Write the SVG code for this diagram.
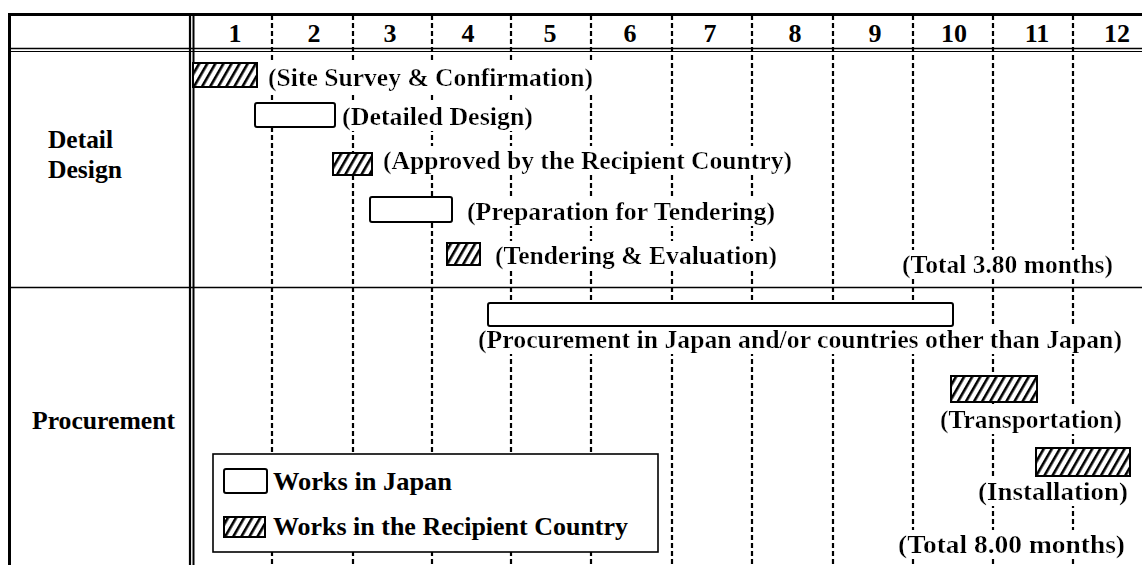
<svg xmlns="http://www.w3.org/2000/svg" width="1142" height="565" viewBox="0 0 1142 565">
<defs>
<pattern id="hatch" patternUnits="userSpaceOnUse" width="7" height="7" patternTransform="rotate(30)">
<rect x="0" y="0" width="7" height="7" fill="#fff"/>
<rect x="0" y="0" width="2.6" height="7" fill="#000"/>
</pattern>
<filter id="bg" x="0" y="0" width="1" height="1">
<feFlood flood-color="#fff"/>
<feComposite in="SourceGraphic"/>
</filter>
</defs>
<style>
text{font-family:"Liberation Serif","Times New Roman",serif;font-weight:bold;font-size:26px;fill:#000}
.lbl{filter:url(#bg)}
.num{text-anchor:middle}
.grid{stroke:#000;stroke-width:2.2;stroke-dasharray:5 3;fill:none}
.rule{stroke:#000;fill:none}
.white{fill:#fff;stroke:#000;stroke-width:2}
.hatch{fill:url(#hatch);stroke:#000;stroke-width:2}
</style>
<rect width="1142" height="565" fill="#fff"/>
<g id="grid-lines">
<line class="grid" x1="272" y1="15" x2="272" y2="565"/>
<line class="grid" x1="353" y1="15" x2="353" y2="565"/>
<line class="grid" x1="432" y1="15" x2="432" y2="565"/>
<line class="grid" x1="511" y1="15" x2="511" y2="565"/>
<line class="grid" x1="591" y1="15" x2="591" y2="565"/>
<line class="grid" x1="672" y1="15" x2="672" y2="565"/>
<line class="grid" x1="752" y1="15" x2="752" y2="565"/>
<line class="grid" x1="833" y1="15" x2="833" y2="565"/>
<line class="grid" x1="913" y1="15" x2="913" y2="565"/>
<line class="grid" x1="993" y1="15" x2="993" y2="565"/>
<line class="grid" x1="1073" y1="15" x2="1073" y2="565"/>
</g>
<g id="frame">
<line class="rule" x1="8" y1="14.5" x2="1142" y2="14.5" stroke-width="3"/>
<line class="rule" x1="9.5" y1="13" x2="9.5" y2="565" stroke-width="3"/>
<line class="rule" x1="9" y1="48.5" x2="1142" y2="48.5" stroke-width="1.6"/>
<line class="rule" x1="9" y1="51.5" x2="1142" y2="51.5" stroke-width="1.1"/>
<line class="rule" x1="190" y1="13" x2="190" y2="565" stroke-width="2.2"/>
<line class="rule" x1="193.5" y1="13" x2="193.5" y2="565" stroke-width="2"/>
<line class="rule" x1="9" y1="287.5" x2="1142" y2="287.5" stroke-width="1.6"/>
</g>
<g id="header">
<text class="num" x="235" y="42">1</text>
<text class="num" x="314" y="42">2</text>
<text class="num" x="390" y="42">3</text>
<text class="num" x="468" y="42">4</text>
<text class="num" x="550" y="42">5</text>
<text class="num" x="630" y="42">6</text>
<text class="num" x="710" y="42">7</text>
<text class="num" x="795" y="42">8</text>
<text class="num" x="875" y="42">9</text>
<text class="num" x="954" y="42">10</text>
<text class="num" x="1037" y="42">11</text>
<text class="num" x="1117" y="42">12</text>
</g>
<g id="section-detail-design">
<text x="48" y="148" textLength="65" lengthAdjust="spacingAndGlyphs">Detail</text>
<text x="48" y="178" textLength="74" lengthAdjust="spacingAndGlyphs">Design</text>
</g>
<g id="section-procurement">
<text x="32" y="429" textLength="143" lengthAdjust="spacingAndGlyphs">Procurement</text>
</g>
<g id="task-site-survey">
<text class="lbl" x="268" y="86" textLength="325" lengthAdjust="spacingAndGlyphs">(Site Survey &amp; Confirmation)</text>
<rect class="hatch" x="193" y="63" width="64" height="24"/>
</g>
<g id="task-detailed-design">
<text class="lbl" x="342" y="125" textLength="191" lengthAdjust="spacingAndGlyphs">(Detailed Design)</text>
<rect class="white" x="255" y="103" width="80" height="24" rx="2"/>
</g>
<g id="task-approved">
<text class="lbl" x="383" y="169" textLength="409" lengthAdjust="spacingAndGlyphs">(Approved by the Recipient Country)</text>
<rect class="hatch" x="333" y="153" width="39" height="22"/>
</g>
<g id="task-preparation">
<text class="lbl" x="467" y="220" textLength="308" lengthAdjust="spacingAndGlyphs">(Preparation for Tendering)</text>
<rect class="white" x="370" y="197" width="82" height="25" rx="2"/>
</g>
<g id="task-tendering">
<text class="lbl" x="495" y="264" textLength="282" lengthAdjust="spacingAndGlyphs">(Tendering &amp; Evaluation)</text>
<rect class="hatch" x="447" y="243" width="33" height="22"/>
</g>
<g id="total-detail">
<text class="lbl" x="902" y="273" textLength="211" lengthAdjust="spacingAndGlyphs">(Total 3.80 months)</text>
</g>
<g id="task-procurement">
<text class="lbl" x="478" y="348" textLength="644" lengthAdjust="spacingAndGlyphs">(Procurement in Japan and/or countries other than Japan)</text>
<rect class="white" x="488" y="303" width="465" height="23" rx="2"/>
</g>
<g id="task-transportation">
<text class="lbl" x="940" y="428" textLength="182" lengthAdjust="spacingAndGlyphs">(Transportation)</text>
<rect class="hatch" x="951" y="376" width="86" height="26"/>
</g>
<g id="task-installation">
<text class="lbl" x="978" y="500" textLength="150" lengthAdjust="spacingAndGlyphs">(Installation)</text>
<rect class="hatch" x="1036" y="448" width="94" height="28"/>
</g>
<g id="total-procurement">
<text class="lbl" x="898" y="553" textLength="227" lengthAdjust="spacingAndGlyphs">(Total 8.00 months)</text>
</g>
<g id="legend">
<rect x="213" y="454" width="445" height="98" fill="#fff" stroke="#000" stroke-width="1.6"/>
<rect class="white" x="224" y="469" width="43" height="24" rx="2"/>
<text x="273" y="490" textLength="179" lengthAdjust="spacingAndGlyphs">Works in Japan</text>
<rect class="hatch" x="224" y="517" width="41" height="20"/>
<text x="273" y="535" textLength="355" lengthAdjust="spacingAndGlyphs">Works in the Recipient Country</text>
</g>
</svg>
